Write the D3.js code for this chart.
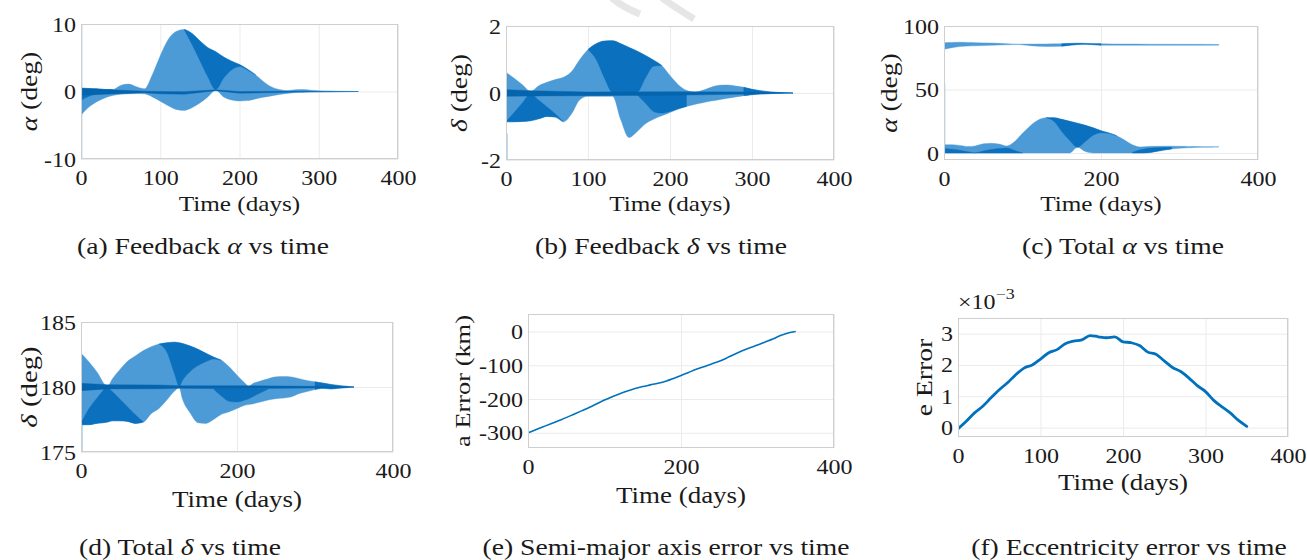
<!DOCTYPE html>
<html><head><meta charset="utf-8">
<script src="https://cdn.jsdelivr.net/npm/d3@7"></script>
<style>
html,body{margin:0;padding:0;background:#fff;}
svg{display:block;}
text{font-family:"Liberation Serif","Times New Roman",serif;fill:#1a1a1a;}
</style></head><body>
<svg id="fig" width="1307" height="560"></svg>
<script>
// ================= DATA =================
const xTicks4 = [0,100,200,300,400];
const xTicks2 = [0,200,400];
const days = [0,10,20,30,40,50,60,70,80,90,100,110,120,130,140,150,160,170,180,190,200,210,220,230,240,250,260,270,280,290,300,310,320,330,340,350];

// (a) Feedback alpha (deg): envelopes of the fast oscillation
const aUpper = [0.5,0.45,0.4,0.3,0.3,0.9,1.1,0.7,0.4,2.5,5.3,7.7,8.9,9.2,8.6,7.5,6.5,5.9,5.1,4.5,4.0,3.3,2.5,1.5,0.7,0.3,0.15,0.25,0.3,0.2,0.12,0.08,0.05,0.03,0.01,0];
const aLower = [-3.5,-2.3,-1.5,-0.95,-0.6,-0.4,-0.35,-0.3,-0.35,-0.8,-1.45,-2.1,-2.65,-2.8,-2.4,-1.7,-0.8,0.2,-0.8,-1.25,-1.4,-1.35,-1.1,-0.85,-0.65,-0.45,-0.3,-0.15,-0.1,-0.07,-0.05,-0.03,-0.02,-0.01,0,0];
const aDark1T = [0,10,20,30,40];
const aDark1Lo = [-1.3,-0.7,-0.35,-0.15,0.1];
const aDark2T = [130,140,150,160,170,180,190,200,210,220];
const aDark2Lo = [9.2,7.0,4.6,2.2,0.3,2.0,3.2,3.7,3.2,2.45];
const aMidT = [0,30,80,100,130,170,200,260,350];
const aMidHi = [0.45,0.3,0.05,0.0,-0.02,0.25,0.0,0.02,0];
const aMidLo = [-0.55,-0.4,-0.2,-0.35,-0.4,0.1,-0.25,-0.12,0];
const aSpike = [-10,10];
const aYTicks = [-10,0,10];

// (b) Feedback delta (deg)
const bUpper = [0.62,0.44,0.25,0.05,0.22,0.32,0.4,0.47,0.64,1.0,1.3,1.47,1.55,1.56,1.47,1.36,1.25,1.12,0.98,0.82,0.52,0.25,0.08,0.03,0.08,0.17,0.23,0.24,0.21,0.17,0.11,0.07,0.04,0.02,0.01,0];
const bLower = [-0.86,-0.86,-0.85,-0.83,-0.77,-0.7,-0.72,-0.86,-0.62,-0.2,-0.1,-0.1,-0.1,-0.1,-0.8,-1.33,-1.15,-0.92,-0.78,-0.68,-0.58,-0.48,-0.4,-0.34,-0.29,-0.24,-0.2,-0.16,-0.12,-0.08,-0.05,-0.03,-0.02,-0.01,0,0];
const bDark1T = [0,10,20,30,40,50,60,70];
const bDark1Hi = [-0.86,-0.58,-0.3,-0.02,-0.22,-0.42,-0.62,-0.86];
const bDark2T = [100,110,120,130,140,150,160,170,180,190];
const bDark2Lo = [1.3,1.0,0.45,0.02,0.02,0.02,0.03,0.45,0.8,0.82];
const bDark3T = [160,170,180,190,200,210,220];
const bDark3Hi = [-0.05,-0.05,-0.05,-0.05,-0.05,-0.05,-0.05];
const bDark3Lo = [-0.05,-0.3,-0.55,-0.6,-0.55,-0.47,-0.4];
const bDark4T = [290,300,310,320,330,340,350];
const bMidT = [0,30,100,200,300,350];
const bMidHi = [0.1,0.07,0.03,0.04,0.03,0];
const bMidLo = [-0.1,-0.09,-0.08,-0.07,-0.03,0];
const bSpike = [-2,-1.2];
const bYTicks = [-2,0,2];

// (c) Total alpha (deg)
const cTopT = [0,10,20,30,40,60,80,95,110,130,150,170,180,200,230,260,300,350];
const cTopHi = [86.9,87.1,87.2,87.1,86.9,86.6,86.1,85.7,85.8,85.9,86.0,86.4,86.3,86.0,85.8,85.7,85.6,85.5];
const cTopLo = [81.7,82.9,83.8,84.2,84.4,84.8,85.2,85.4,84.5,83.9,84.1,85.4,85.6,84.9,84.9,84.8,84.8,84.9];
const cTopDarkT = [150,170,180,200];
const cLowHi = [6.5,6.6,6.0,5.2,5.6,7.2,7.6,7.0,5.5,9.0,15.5,21.5,26.0,27.8,27.8,26.5,25.0,23.5,21.8,19.8,17.6,15.8,13.5,10.2,6.5,4.8,5.2,5.3,5.4,5.4,5.3,5.2,5.1,5.0,5.0,4.9];
const cLowLo = [0,0,0,0,0,0,0,0,0,0,0,0,0,0,0,0,0,4.5,1.2,0,0,0,0,0,0,0,0.3,1.2,2.3,3.2,3.8,4.1,4.4,4.5,4.6,4.7];
const cDark1T = [130,140,150,160,170,180,190,200,210,220];
const cDark1Lo = [27.8,25,17,10,4.5,9,14,16,15.5,13.5];
const cDark2T = [0,10,20,30,40];
const cDark2Hi = [3.5,3.0,2.2,1.0,0];
const cDark3T = [40,50,60,70,80,90,100];
const cDark3Hi = [0,1.5,2.8,3.5,4.0,2.0,0];
const cDark4T = [240,250,260,270,280,290];
const cDark4Hi = [0.5,2.5,3.8,4.2,4.5,4.6];
const cSpike = [0,55];
const cYTicks = [0,50,100];

// (d) Total delta (deg)
const dT = [0,10,20,34,40,50,60,70,80,90,100,110,120,126,130,140,150,160,170,180,190,200,210,215,220,230,240,250,260,270,280,290,300,310,320,330,340,350];
const dUpper = [182.6,181.95,181.2,180.05,180.6,181.35,182.0,182.4,182.8,183.1,183.3,183.4,183.45,183.4,183.35,183.15,182.9,182.6,182.3,182.05,181.55,180.9,180.3,180.05,180.25,180.46,180.64,180.78,180.8,180.77,180.64,180.5,180.4,180.3,180.2,180.12,180.06,180.0];
const dLower = [177.1,177.1,177.2,177.3,177.4,177.4,177.35,177.2,177.3,177.95,178.35,179.0,179.7,179.95,179.1,178.0,177.25,177.2,177.5,177.9,178.1,178.35,178.6,178.65,178.7,178.85,179.0,179.1,179.15,179.25,179.5,179.65,179.8,179.9,179.85,179.9,179.95,180.0];
const dDark1T = [0,10,20,34,40,50,60,70,80];
const dDark1Hi = [177.2,178.3,179.1,179.95,179.65,179.05,178.45,177.85,177.3];
const dDark2T = [100,110,120,126,130,140,150,160,170,180];
const dDark2Lo = [183.3,182.7,181.0,180.05,180.5,181.2,181.65,181.95,182.15,182.05];
const dDark3T = [170,180,190,200,210,215,220,230,240];
const dDark3Hi = [179.85,179.85,179.85,179.85,179.85,179.85,179.85,179.85,179.85];
const dDark3Lo = [179.85,179.3,178.9,178.85,179.0,179.1,179.25,179.55,179.85];
const dDark4T = [300,310,320,330,340,350];
const dMidT = [0,34,100,126,200,300,350];
const dMidHi = [180.28,180.18,180.15,180.1,180.1,180.05,180.0];
const dMidLo = [179.72,179.85,179.87,179.9,179.87,179.92,180.0];
const dSpike = [175,177.1];
const dYTicks = [175,180,185];

// (e) Semi-major axis error (km)
const aError = [-300,-291,-282,-273,-264,-255,-245,-235,-225,-214,-203,-193,-184,-176,-169,-163,-158,-153,-147,-139,-130,-121,-112,-104,-96,-88,-78,-67,-57,-48,-40,-31,-22,-12,-4,0];
const eYTicks = [-300,-200,-100,0];

// (f) Eccentricity error (x 1e-3)
const eError = [-0.04,0.2,0.47,0.68,0.95,1.21,1.43,1.69,1.9,2.0,2.19,2.39,2.49,2.68,2.76,2.8,2.94,2.9,2.87,2.9,2.74,2.71,2.62,2.41,2.34,2.13,1.92,1.79,1.58,1.34,1.15,0.87,0.66,0.47,0.23,0.04];
const fYTicks = [0,1,2,3];

// ================= DRAWING =================
const SX = 1.2;
const LIGHT = "#4c9ad6", DARK = "#0b70bd", MID = "#0564ae", LINE = "#0072BD";
const svg = d3.select('#fig');

// faint watermark strokes
svg.append('path').attr('d','M612,-2 Q624,8 640,14').attr('fill','none').attr('stroke','#e6e6e6').attr('stroke-width',7);
svg.append('path').attr('d','M662,-2 Q676,8 694,19').attr('fill','none').attr('stroke','#e6e6e6').attr('stroke-width',7);

function lookup(tArr, vArr, ts){ return ts.map(tt => vArr[tArr.indexOf(tt)]); }
function zip(t, lo, hi){ return t.map((tt,i)=>({t:tt, lo:lo[i], hi:hi[i]})); }

function stext(parent, x, y, size, anchor){
  return parent.append('text')
    .attr('transform', `translate(${x},${y}) scale(${SX},1)`)
    .attr('text-anchor', anchor).style('font-size', size + 'px');
}
function rich(t, parts){
  parts.forEach(([s, it]) => t.append('tspan').text(s).style('font-style', it ? 'italic' : 'normal'));
  return t;
}

function makePanel(p){
  const g = svg.append('g');
  const x = d3.scaleLinear().domain([0,400]).range([p.l,p.r]);
  const y = d3.scaleLinear().domain(p.yd).range([p.b,p.t]);
  const cleanGrid = s => { s.select('.domain').remove(); s.selectAll('line').attr('stroke','#ebebeb').attr('stroke-width',1); };
  g.append('g').attr('transform',`translate(0,${p.b})`)
    .call(d3.axisBottom(x).tickValues(p.xt).tickSize(-(p.b-p.t)).tickFormat(''))
    .call(cleanGrid);
  g.append('g').attr('transform',`translate(${p.l},0)`)
    .call(d3.axisLeft(y).tickValues(p.yt).tickSize(-(p.r-p.l)).tickFormat(''))
    .call(cleanGrid);
  const cid = 'clip' + p.id;
  g.append('clipPath').attr('id', cid).append('rect')
    .attr('x', p.l).attr('y', p.t).attr('width', p.r-p.l).attr('height', p.b-p.t);
  const plot = g.append('g').attr('clip-path', `url(#${cid})`);
  return {g, x, y, plot, p};
}
function finishPanel(P){
  const {g, x, y, p} = P;
  g.append('rect').attr('x',p.l+0.5).attr('y',p.t+0.5).attr('width',p.r-p.l-1).attr('height',p.b-p.t-1)
    .attr('fill','none').attr('stroke','#cfcfcf').attr('stroke-width',1);
  const ax = g.append('g').attr('transform',`translate(0,${p.b})`)
    .call(d3.axisBottom(x).tickValues(p.xt).tickSize(0).tickFormat(d => String(d)));
  ax.select('.domain').remove();
  ax.selectAll('text').attr('y', 26).attr('dy', 0)
    .attr('transform', `scale(${SX},1)`)
    .style('font-size', '20px').style('font-family', '"Liberation Serif",serif').attr('fill', '#1a1a1a');
  const ay = g.append('g').attr('transform',`translate(${p.l},0)`)
    .call(d3.axisLeft(y).tickValues(p.yt).tickSize(0).tickFormat(d => String(d)));
  ay.select('.domain').remove();
  ay.selectAll('text').attr('x', -5/SX).attr('dy', '0.35em')
    .attr('transform', `scale(${SX},1)`)
    .style('font-size', '20px').style('font-family', '"Liberation Serif",serif').attr('fill', '#1a1a1a');
  rich(stext(svg, (p.l+p.r)/2, p.b + p.xlOff, p.xlSize, 'middle'), [['Time (days)', false]]);
  const yl = svg.append('text')
    .attr('transform', `translate(${p.l - p.ylOff},${(p.t+p.b)/2}) rotate(-90) scale(${SX},1)`)
    .attr('text-anchor','middle').style('font-size', p.ylSize + 'px');
  rich(yl, p.ylabel);
}

function band(P, data, color, curve){
  P.plot.append('path').datum(data)
    .attr('d', d3.area().x(d => P.x(d.t)).y0(d => P.y(d.lo)).y1(d => P.y(d.hi)).curve(curve || d3.curveMonotoneX))
    .attr('fill', color).attr('stroke', color).attr('stroke-width', 0.4);
}
function spike(P, rng, op){
  P.plot.append('line').attr('x1', P.x(0)+0.8).attr('x2', P.x(0)+0.8)
    .attr('y1', P.y(rng[0])).attr('y2', P.y(rng[1]))
    .attr('stroke', LIGHT).attr('stroke-width', 1.6).attr('opacity', op);
}

// ---------- (a) ----------
{
  const P = makePanel({id:'a', l:81, r:398, t:24, b:159, yd:[-10,10], xt:xTicks4, yt:aYTicks,
    xlOff:52, xlSize:21, ylOff:44, ylSize:23, ylabel:[['α',true],[' (deg)',false]]});
  band(P, zip(days, aLower, aUpper), LIGHT);
  band(P, zip(aDark1T, aDark1Lo, lookup(days, aUpper, aDark1T)), DARK);
  band(P, zip(aDark2T, aDark2Lo, lookup(days, aUpper, aDark2T)), DARK);
  band(P, zip(aMidT, aMidLo, aMidHi), MID, d3.curveLinear);
  spike(P, aSpike, 0.3);
  finishPanel(P);
}
// ---------- (b) ----------
{
  const P = makePanel({id:'b', l:506, r:834, t:26, b:160, yd:[-2,2], xt:xTicks4, yt:bYTicks,
    xlOff:51, xlSize:21, ylOff:39, ylSize:23, ylabel:[['δ',true],[' (deg)',false]]});
  band(P, zip(days, bLower, bUpper), LIGHT);
  band(P, zip(bDark1T, lookup(days, bLower, bDark1T), bDark1Hi), DARK);
  band(P, zip(bDark2T, bDark2Lo, lookup(days, bUpper, bDark2T)), DARK);
  band(P, zip(bDark3T, bDark3Lo, bDark3Hi), DARK);
  band(P, zip(bDark4T, lookup(days, bLower, bDark4T), lookup(days, bUpper, bDark4T)), DARK);
  band(P, zip(bMidT, bMidLo, bMidHi), MID, d3.curveLinear);
  spike(P, bSpike, 0.6);
  finishPanel(P);
}
// ---------- (c) ----------
{
  const P = makePanel({id:'c', l:944, r:1258, t:26, b:160, yd:[-5.5,100], xt:xTicks2, yt:cYTicks,
    xlOff:51, xlSize:21, ylOff:47, ylSize:23, ylabel:[['α',true],[' (deg)',false]]});
  band(P, zip(cTopT, cTopLo, cTopHi), LIGHT);
  band(P, zip(cTopDarkT, lookup(cTopT, cTopLo, cTopDarkT), lookup(cTopT, cTopHi, cTopDarkT)), DARK);
  band(P, zip(days, cLowLo, cLowHi), LIGHT);
  band(P, zip(cDark1T, cDark1Lo, lookup(days, cLowHi, cDark1T)), DARK);
  band(P, zip(cDark2T, lookup(days, cLowLo, cDark2T), cDark2Hi), DARK);
  band(P, zip(cDark3T, lookup(days, cLowLo, cDark3T), cDark3Hi), DARK);
  band(P, zip(cDark4T, lookup(days, cLowLo, cDark4T), cDark4Hi), DARK);
  spike(P, cSpike, 0.25);
  finishPanel(P);
}
// ---------- (d) ----------
{
  const P = makePanel({id:'d', l:81, r:393, t:322, b:452, yd:[175,185], xt:xTicks2, yt:dYTicks,
    xlOff:55, xlSize:22.5, ylOff:44, ylSize:24, ylabel:[['δ',true],[' (deg)',false]]});
  band(P, zip(dT, dLower, dUpper), LIGHT);
  band(P, zip(dDark1T, lookup(dT, dLower, dDark1T), dDark1Hi), DARK);
  band(P, zip(dDark2T, dDark2Lo, lookup(dT, dUpper, dDark2T)), DARK);
  band(P, zip(dDark3T, dDark3Lo, dDark3Hi), DARK);
  band(P, zip(dDark4T, lookup(dT, dLower, dDark4T), lookup(dT, dUpper, dDark4T)), DARK);
  band(P, zip(dMidT, dMidLo, dMidHi), MID, d3.curveLinear);
  spike(P, dSpike, 0.6);
  finishPanel(P);
}
// ---------- (e) ----------
{
  const P = makePanel({id:'e', l:528, r:834, t:314, b:448, yd:[-345,52], xt:xTicks2, yt:eYTicks,
    xlOff:55, xlSize:22.5, ylOff:58, ylSize:22, ylabel:[['a Error (km)',false]]});
  P.plot.append('path').datum(days.map((t,i)=>({t, v:aError[i]})))
    .attr('d', d3.line().x(d=>P.x(d.t)).y(d=>P.y(d.v)).curve(d3.curveMonotoneX))
    .attr('fill','none').attr('stroke',LINE).attr('stroke-width',1.6);
  finishPanel(P);
}
// ---------- (f) ----------
{
  const P = makePanel({id:'f', l:958, r:1288, t:318, b:437, yd:[-0.3,3.5], xt:xTicks4, yt:fYTicks,
    xlOff:53, xlSize:22.5, ylOff:26, ylSize:23, ylabel:[['e Error',false]]});
  P.plot.append('path').datum(days.map((t,i)=>({t, v:eError[i]})))
    .attr('d', d3.line().x(d=>P.x(d.t)).y(d=>P.y(d.v)).curve(d3.curveMonotoneX))
    .attr('fill','none').attr('stroke',LINE).attr('stroke-width',2.8).attr('stroke-linecap','round');
  finishPanel(P);
  const ex = stext(svg, 958, 309, 20, 'start');
  ex.append('tspan').text('×10');
  ex.append('tspan').text('−3').attr('dy', -10).style('font-size','15px');
}

// ---------- captions ----------
const caps = [
  {x:203, y:254, parts:[['(a) Feedback ',false],['α',true],[' vs time',false]]},
  {x:661, y:254, parts:[['(b) Feedback ',false],['δ',true],[' vs time',false]]},
  {x:1123, y:254, parts:[['(c) Total ',false],['α',true],[' vs time',false]]},
  {x:180, y:555, parts:[['(d) Total ',false],['δ',true],[' vs time',false]]},
  {x:666, y:555, parts:[['(e) Semi-major axis error vs time',false]]},
  {x:1129, y:555, parts:[['(f) Eccentricity error vs time',false]]}
];
caps.forEach(c => rich(stext(svg, c.x, c.y, 23, 'middle'), c.parts));
</script>
</body></html>
